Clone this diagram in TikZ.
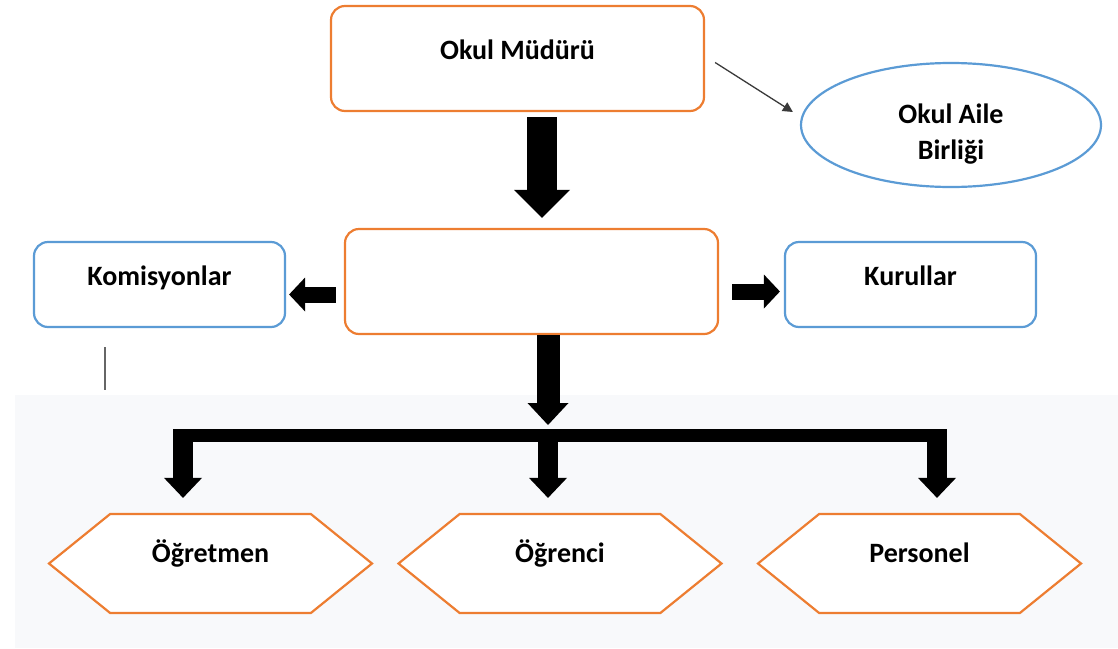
\documentclass[tikz,border=0pt]{standalone}
\usepackage{fontspec}
\setmainfont{Carlito}
\usetikzlibrary{arrows.meta,shapes.geometric,shapes.symbols}
\definecolor{turuncu}{HTML}{ED7D31}
\definecolor{mavi}{HTML}{5B9BD5}
\definecolor{zemin}{RGB}{248,249,251}
\definecolor{koyugri}{HTML}{3A3A3A}
\newcommand{\cizgiKalinlik}{2.2pt}
\newcommand{\yaziBoyu}{\fontsize{28pt}{36pt}\selectfont\bfseries}

\begin{document}
\begin{tikzpicture}[x=1pt,y=-1pt,
    turuncukutu/.style={draw=turuncu,line width=\cizgiKalinlik,rounded corners=14pt,fill=white,
      minimum width=373pt,minimum height=105pt,font=\yaziBoyu,text height=20pt,text depth=18pt},
    mavikutu/.style={draw=mavi,line width=\cizgiKalinlik,rounded corners=14pt,fill=white,
      minimum width=251pt,minimum height=85pt,font=\yaziBoyu,text height=20pt,text depth=18pt},
    altigen/.style={signal,signal to=west and east,signal pointer angle=78,draw=turuncu,
      line width=\cizgiKalinlik,fill=white,minimum width=323pt,minimum height=99pt,inner xsep=0pt,
      font=\yaziBoyu,text height=18pt,text depth=20pt},
    buyukok/.style={line width=30pt,-{Triangle[width=56pt,length=28pt,line width=0pt]}},
    ortaok/.style={line width=23pt,-{Triangle[width=41pt,length=22pt,line width=0pt]}},
    kolok/.style={line width=20pt,-{Triangle[width=38pt,length=20pt,line width=0pt]}},
    yanok/.style={line width=16pt,-{Triangle[width=34pt,length=16pt,line width=0pt]}}]
  \useasboundingbox (0,0) rectangle (1118,648);
  \fill[zemin] (15,395) rectangle (1118,648);

  \node[turuncukutu] (mudur) at (517.5,58.5) {Okul Müdürü};
  \node[ellipse,draw=mavi,line width=\cizgiKalinlik,fill=white,minimum width=300pt,minimum height=124pt,
    align=center,font=\yaziBoyu] (veli) at (951,125) {\rule{0pt}{37pt}Okul Aile\\Birliği};
  \node[turuncukutu] (yonetim) at (531.5,281.5) {};
  \node[mavikutu] (komisyon) at (159.5,284.5) {Komisyonlar};
  \node[mavikutu] (kurul) at (910.5,284.5) {Kurullar};
  \node[altigen] (ogretmen) at (210.5,563.5) {Öğretmen};
  \node[altigen] (ogrenci) at (560,563.5) {Öğrenci};
  \node[altigen] (personel) at (919.5,563.5) {Personel};

  \coordinate (dalsol) at (183,435);
  \coordinate (dalorta) at (548,435);
  \coordinate (dalsag) at (937,435);
  \coordinate (cizgiuc) at (105,390);

  \draw[koyugri,line width=1.3pt,-{Triangle[width=10pt,length=10pt]}]
    ([xshift=10pt,yshift=-4pt]mudur.east) -- ([xshift=-7pt,yshift=13pt]veli.west);
  \draw[buyukok,shorten <=5pt,shorten >=10pt] (mudur.south -| 542,0) -- (yonetim.north -| 542,0);
  \draw[yanok,shorten <=8pt,shorten >=3pt] ([yshift=-13pt]yonetim.west) -- ([yshift=-13pt]yonetim.west -| komisyon.east);
  \draw[yanok,shorten <=13pt,shorten >=4pt] ([yshift=-10pt]yonetim.east) -- ([yshift=-10pt]yonetim.east -| kurul.west);
  \draw[gray!80!black,line width=1.5pt,shorten <=19pt] (komisyon.south -| cizgiuc) -- (cizgiuc);

  \draw[ortaok,shorten >=10pt] (yonetim.south -| dalorta) -- (dalorta);
  \draw[line width=13pt] ([xshift=-10pt]dalsol) -- ([xshift=9pt]dalsag);
  \draw[kolok,shorten >=15pt] ([yshift=6pt]dalsol) -- (ogretmen.north -| dalsol);
  \draw[kolok,shorten >=15pt] ([yshift=6pt]dalorta) -- (ogrenci.north -| dalorta);
  \draw[kolok,shorten >=15pt] ([yshift=6pt]dalsag) -- (personel.north -| dalsag);
\end{tikzpicture}
\end{document}
